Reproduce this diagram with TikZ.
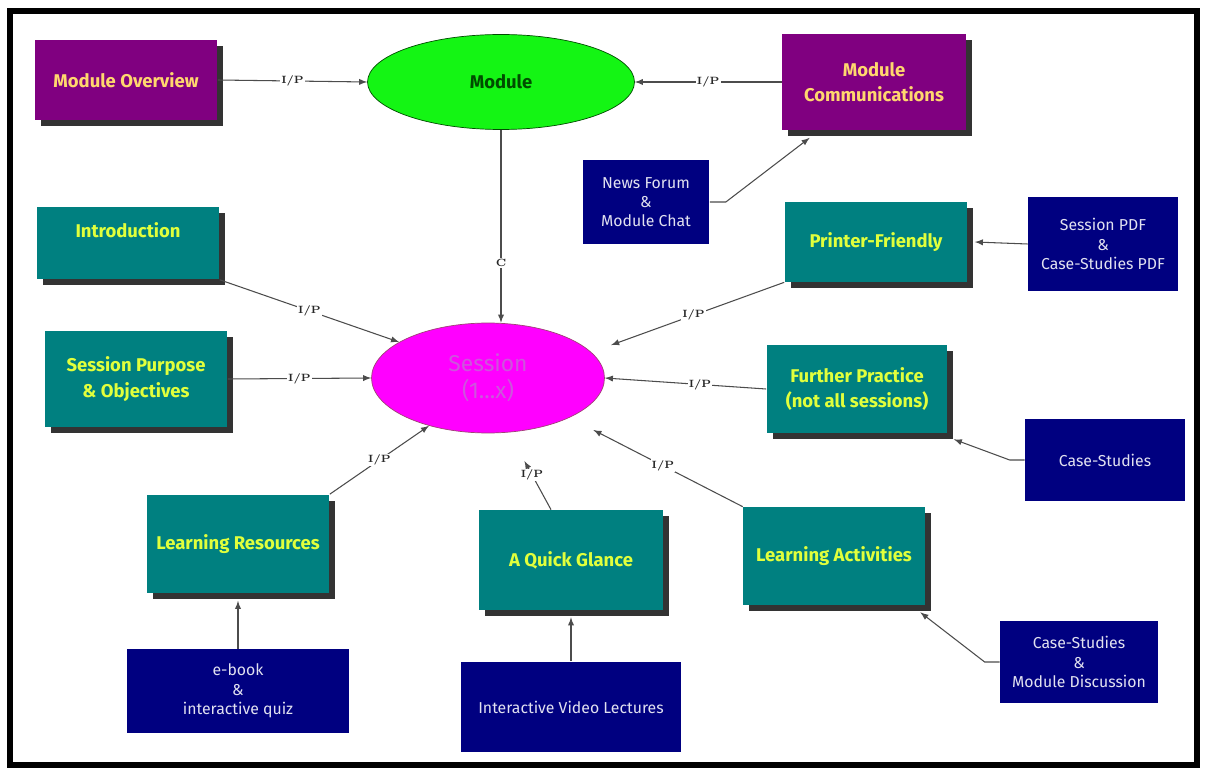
\documentclass[tikz,border=0pt]{standalone}
\usepackage{fontspec}
\setsansfont{Fira Sans}
\usepackage{tikz}
\usepackage{xcolor}
\usetikzlibrary{shapes.geometric, arrows, positioning, calc, shadows}

\definecolor{modpurple}{RGB}{128,0,128}
\definecolor{sesteal}{RGB}{0,128,128}
\definecolor{resnavy}{RGB}{0,0,128}
\definecolor{modgreen}{RGB}{20,245,20}
\definecolor{sesmagenta}{RGB}{255,0,255}
\definecolor{modtext}{RGB}{255,215,110}
\definecolor{sestext}{RGB}{225,255,60}
\definecolor{restext}{RGB}{225,225,240}
\definecolor{sessiontext}{RGB}{205,85,220}

\tikzset{
  boxshadow/.style={drop shadow={shadow xshift=0.12cm, shadow yshift=-0.12cm, fill=black!80, opacity=1}},
  boxfont/.style={font=\sffamily\bfseries\fontsize{10.5}{14.5}\selectfont},
  modbox/.style={rectangle, fill=modpurple, boxshadow, boxfont, text=modtext, align=center},
  sesbox/.style={rectangle, fill=sesteal, boxshadow, boxfont, text=sestext, align=center},
  resbox/.style={rectangle, fill=resnavy, text=restext, align=center, inner sep=1pt,
    font=\sffamily\fontsize{9}{11}\selectfont},
  link/.style={-latex, draw=black!70, line width=0.6pt},
  tag/.style={fill=white, inner sep=0.6pt, text=black!85, font=\bfseries\fontsize{6}{6}\selectfont}
}

\begin{document}
\begin{tikzpicture}[x=0.02cm, y=-0.02cm]
% canvas and frame
\useasboundingbox (0,0) rectangle (1206,773);
\fill[white] (0,0) rectangle (1206,773);
\draw[line width=0.12cm] (10,11) rectangle (1197,765);

% module level
\node[modbox, minimum width=3.66cm, minimum height=1.6cm] (overview) at (126,80) {Module Overview};
\node[ellipse, fill=modgreen, draw=green!30!black, minimum width=5.34cm, minimum height=1.9cm,
  boxfont, text=green!30!black] (module) at (501,82) {Module};
\node[modbox, minimum width=3.68cm, minimum height=1.94cm] (comms) at (874,82) {Module\\Communications};
\node[resbox, minimum width=2.54cm, minimum height=1.7cm] (forum) at (646,202) {News Forum\\\&\\Module Chat};

% session level
\node[sesbox, minimum width=3.66cm, minimum height=1.46cm, text depth=0.5cm] (intro) at (128,243) {Introduction};
\node[sesbox, minimum width=3.66cm, minimum height=1.6cm] (printer) at (876,242) {Printer-Friendly};
\node[resbox, minimum width=3.0cm, minimum height=1.9cm] (pdfs) at (1103,244) {Session PDF\\\&\\Case-Studies PDF};
\node[sesbox, minimum width=3.66cm, minimum height=1.94cm] (purpose) at (136,379) {Session Purpose\\\& Objectives};
\node[ellipse, fill=sesmagenta, draw=magenta!60!black, minimum width=4.66cm, minimum height=2.2cm,
  align=center, text=sessiontext, font=\sffamily\fontsize{13}{15.5}\selectfont] (session) at (488,378) {Session\\(1...x)};
\node[sesbox, minimum width=3.62cm, minimum height=1.76cm] (further) at (857,389) {Further Practice\\(not all sessions)};
\node[resbox, minimum width=3.2cm, minimum height=1.64cm] (cases) at (1105,460) {Case-Studies};

% bottom row
\node[sesbox, minimum width=3.66cm, minimum height=1.98cm] (resources) at (238,544) {Learning Resources};
\node[sesbox, minimum width=3.68cm, minimum height=2.0cm] (glance) at (571,560) {A Quick Glance};
\node[sesbox, minimum width=3.64cm, minimum height=1.96cm] (activities) at (834,556) {Learning Activities};
\node[resbox, minimum width=4.46cm, minimum height=1.68cm] (ebook) at (238,691) {e-book\\\&\\interactive quiz};
\node[resbox, minimum width=4.42cm, minimum height=1.82cm] (video) at (571,707) {Interactive Video Lectures};
\node[resbox, minimum width=3.16cm, minimum height=1.66cm] (discussion) at (1079,662) {Case-Studies\\\&\\Module Discussion};

% connectors
\draw[link] (overview.east) -- node[tag] {I/P} (module.west);
\draw[link] (comms.west) -- node[tag] {I/P} (module.east);
\draw[link] (forum.east) -- ++(16,0) -- ([xshift=0.56cm, yshift=-0.14cm]comms.south west);
\draw[link] (module.south) -- node[tag, pos=0.69] {C} (module.south |- session.north);
\draw[link] (intro.south east) -- node[tag] {I/P} (session.158);
\draw[link, shorten >=0.42cm] (printer.south west) -- node[tag, pos=0.47] {I/P} (session.14);
\draw[link] (pdfs.west) -- ([xshift=0.14cm]printer.east);
\draw[link] (purpose.east) -- node[tag] {I/P} (session.west);
\draw[link] (further.west) -- node[tag, pos=0.41] {I/P} (session.east);
\draw[link] (cases.west) -- ++(-15,0) -- ([xshift=0.12cm, yshift=-0.12cm]further.south east);
\draw[link] (resources.north east) -- node[tag] {I/P} (session.219);
\draw[link, shorten >=0.65cm] ([xshift=-0.4cm]glance.north) -- node[tag, pos=0.45] {I/P} (session.291);
\draw[link, shorten >=0.54cm] (activities.north west) -- node[tag, pos=0.46] {I/P} (session.334);
\draw[link] (ebook.north) -- ([yshift=-0.14cm]resources.south);
\draw[link] (video.north) -- ([yshift=-0.14cm]glance.south);
\draw[link] (discussion.west) -- ++(-15,0) -- ([xshift=-0.1cm, yshift=-0.14cm]activities.south east);
\end{tikzpicture}
\end{document}
